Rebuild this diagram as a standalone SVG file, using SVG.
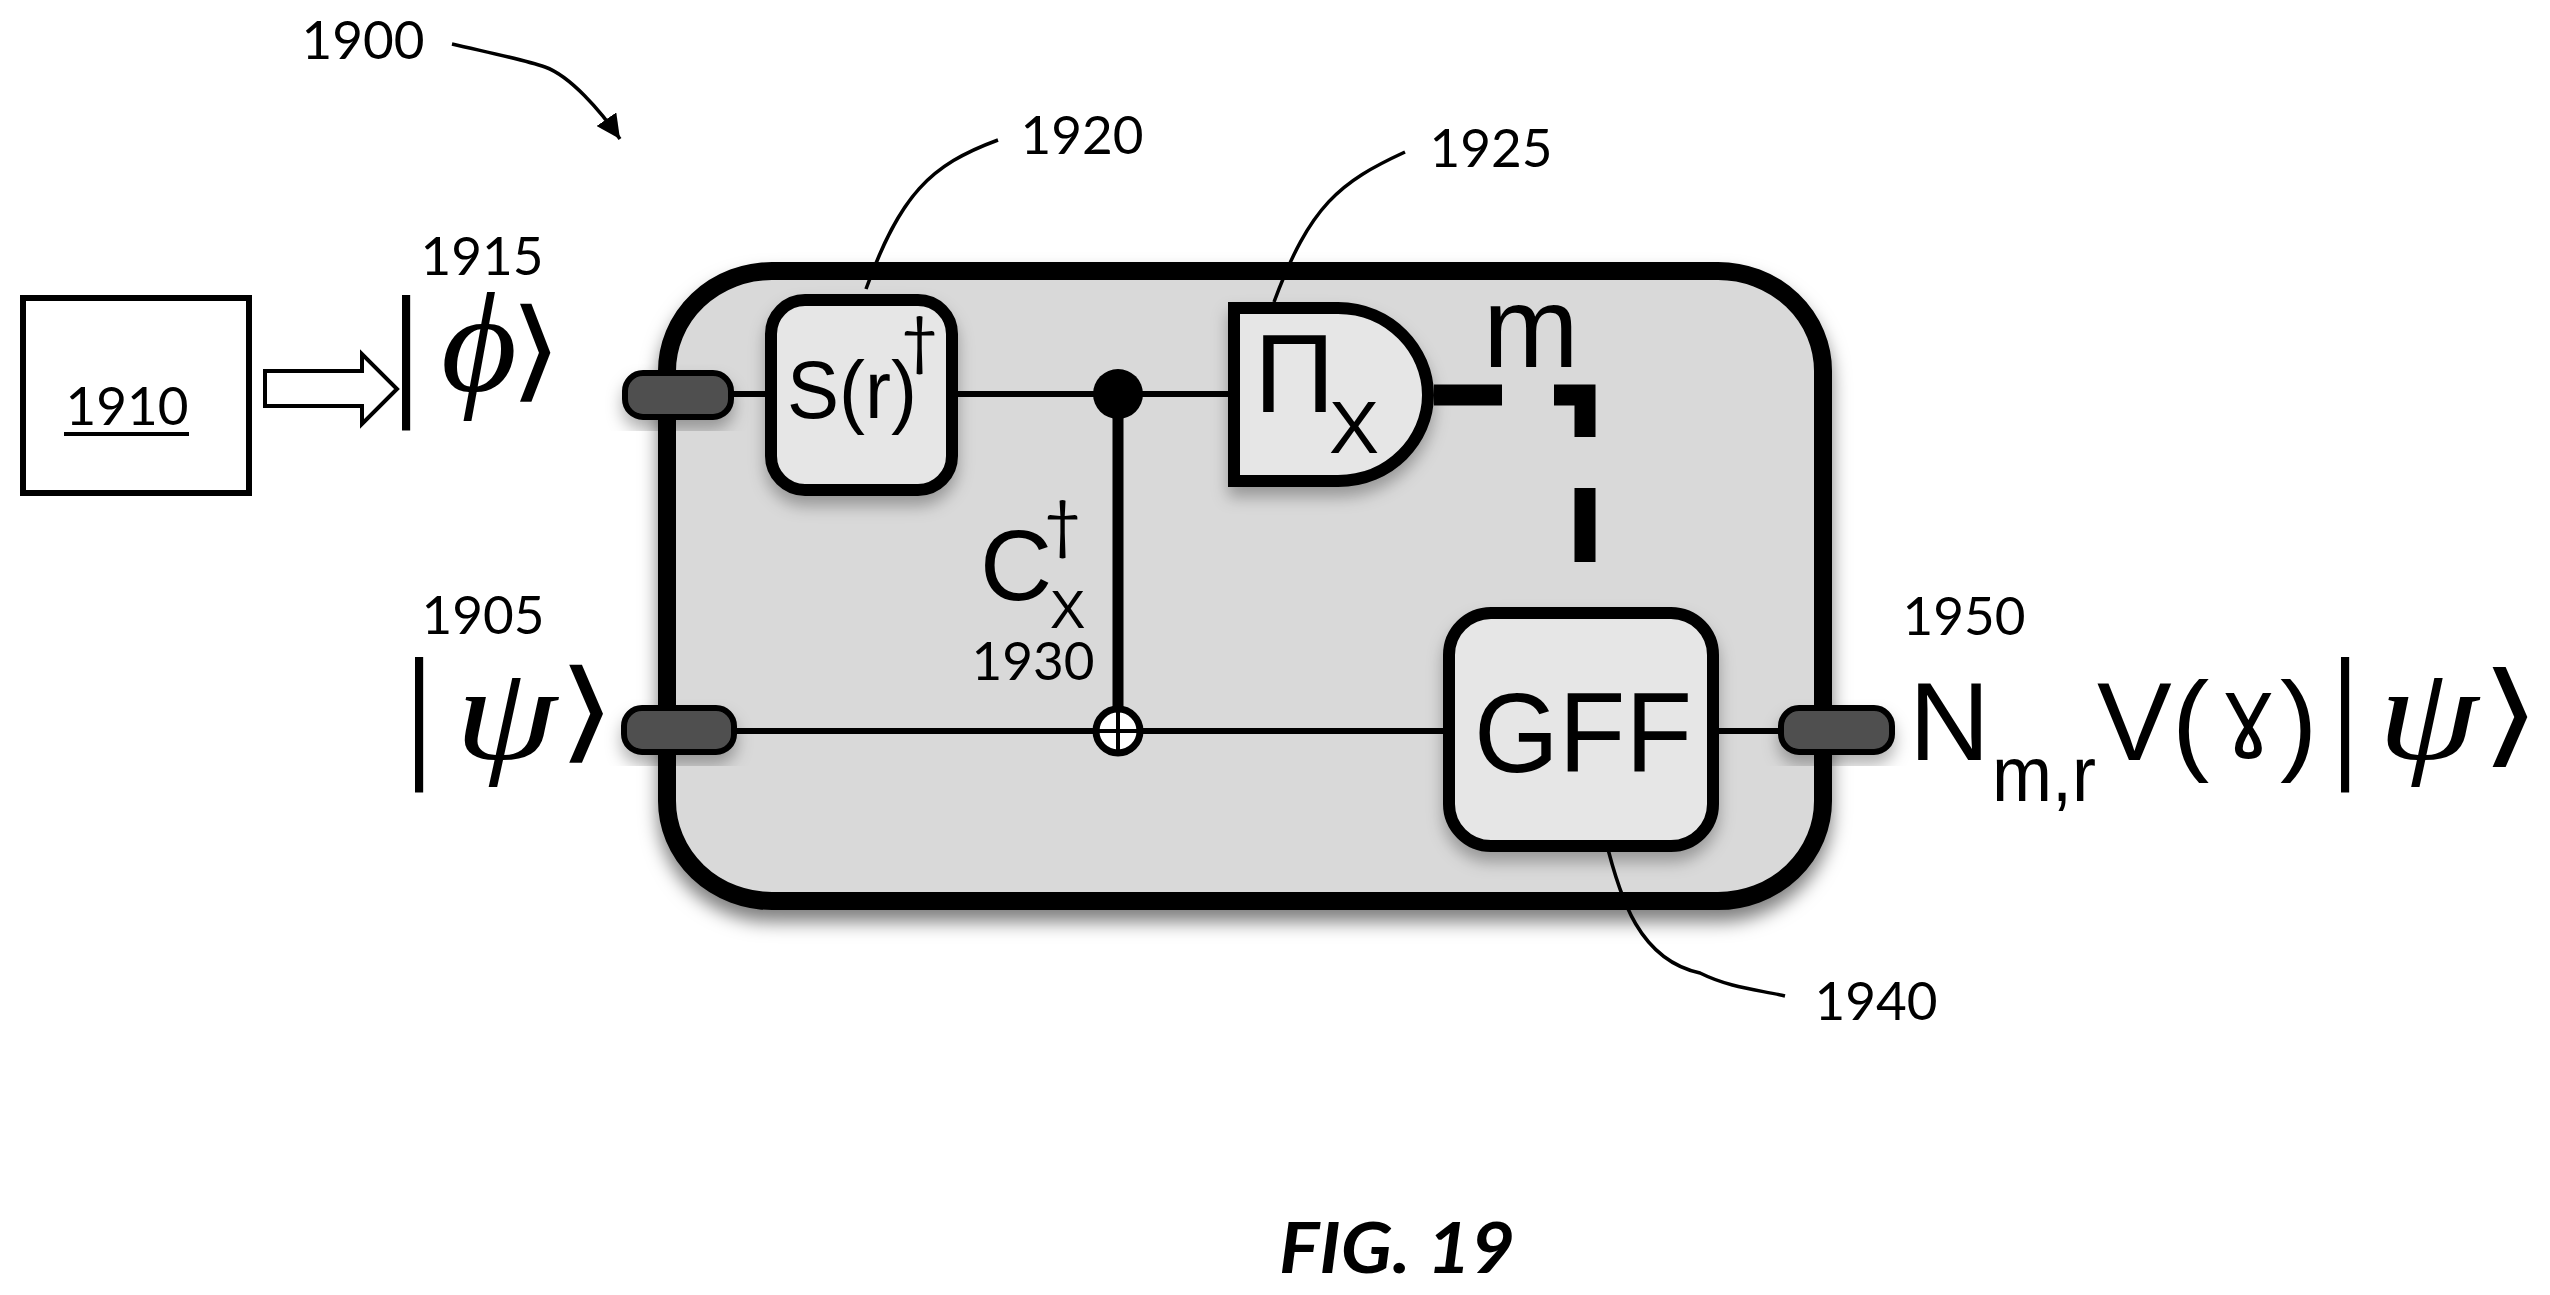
<svg xmlns="http://www.w3.org/2000/svg" width="2550" height="1295" viewBox="0 0 2550 1295">
<style>
text{font-family:"Liberation Sans",Arial,sans-serif;fill:#000}
.lb{font-family:Lato,"Liberation Sans",sans-serif;font-size:53px;text-anchor:middle}
.dg{font-family:Lato,"Liberation Sans",sans-serif;font-size:64px}
.gate{fill:#e6e6e6;stroke:#000;stroke-width:12}
.port{fill:#505050;stroke:#000;stroke-width:6}
.w{fill:none;stroke:#000;stroke-width:6}
.ld{fill:none;stroke:#000;stroke-width:3.5}
.ket{font-family:"DejaVu Sans",sans-serif;font-size:110px}
.gk{font-family:"Liberation Serif","DejaVu Serif",serif;font-style:italic;font-size:130px}
.bar{font-size:144px}
</style>
<defs>
<filter id="sh" x="-10%" y="-10%" width="120%" height="125%"><feDropShadow dx="0" dy="12" stdDeviation="9" flood-color="#000" flood-opacity="0.5"/></filter>
<filter id="sh2" x="-20%" y="-20%" width="140%" height="150%"><feDropShadow dx="0" dy="10" stdDeviation="8" flood-color="#000" flood-opacity="0.3"/></filter>
<marker id="ah" viewBox="0 0 10 10" refX="10" refY="5" markerWidth="24" markerHeight="24" markerUnits="userSpaceOnUse" orient="auto"><path d="M0 0L10 5L0 10Z" fill="#000"/></marker>
</defs>
<g id="n1900"><text class="lb" x="363" y="59">1900</text></g>
<g id="n1910"><rect x="23" y="298" width="226" height="195" fill="#fff" stroke="#000" stroke-width="6"/><text class="lb" x="127" y="425">1910</text><rect x="64" y="432" width="125" height="4"/></g>
<g id="n1915"><text class="lb" x="482" y="275">1915</text>
<text class="bar" transform="translate(393 400) scale(0.7 1)">|</text>
<text class="gk" transform="translate(441 391) scale(1.13 1.09)">ϕ</text>
<text class="ket" transform="translate(509 387) scale(1.25 1)">⟩</text></g>
<g id="n1905"><text class="lb" x="483" y="634">1905</text>
<text class="bar" transform="translate(406 762) scale(0.7 1)">|</text>
<text class="gk" transform="translate(455 759) scale(1.26 1.03)">ψ</text>
<text class="ket" transform="translate(557 748) scale(1.39 1)">⟩</text></g>
<g id="main"><rect x="667" y="271" width="1156" height="630" rx="105" ry="100" fill="#d9d9d9" stroke="#000" stroke-width="18" filter="url(#sh)"/></g>
<g id="connectors">
<path class="w" d="M730 394H765M958 394H1228M735 731H1443M1719 731H1780"/>
<path d="M1118 394V731" fill="none" stroke="#000" stroke-width="11"/>
<path d="M1434 395H1502M1554 395H1585V437M1585 488V562" fill="none" stroke="#000" stroke-width="21"/>
<path class="ld" d="M452 44C500 55 525 60 545 67C570 76 600 110 620 139" marker-end="url(#ah)"/>
<path class="ld" d="M998 140C930 165 900 195 866 289"/>
<path class="ld" d="M1405 152C1340 182 1310 205 1274 302"/>
<path class="ld" d="M1605 837C1620 900 1640 960 1700 973C1730 988 1760 990 1785 996"/>
</g>
<g id="p1"><rect x="625" y="373" width="106" height="44" rx="18" class="port" filter="url(#sh2)"/></g>
<g id="p2"><rect x="624" y="708" width="110" height="44" rx="18" class="port" filter="url(#sh2)"/></g>
<g id="p3"><rect x="1781" y="708" width="111" height="44" rx="18" class="port" filter="url(#sh2)"/></g>
<g id="n1920"><rect x="771" y="300" width="181" height="190" rx="34" class="gate" filter="url(#sh2)"/>
<text x="787" y="418" style="font-size:82px" textLength="130" lengthAdjust="spacingAndGlyphs">S(r)</text><text class="dg" x="901" y="363">†</text>
<text class="lb" x="1082" y="154">1920</text></g>
<g id="n1925"><path class="gate" d="M1234 308H1338C1390 308 1428 350 1428 395C1428 440 1390 481 1338 481H1234Z" filter="url(#sh2)"/>
<text x="1254" y="412" style="font-size:112px">Π</text><text x="1329" y="453" style="font-size:75px">X</text>
<text x="1483" y="367" style="font-size:115px">m</text>
<text class="lb" x="1491" y="167">1925</text></g>
<g id="n1930"><circle cx="1118" cy="394" r="25"/><circle cx="1118" cy="731" r="22" fill="#fff" stroke="#000" stroke-width="7"/><path d="M1118 709V753M1096 731H1140" stroke="#000" stroke-width="4"/>
<text x="980" y="600" style="font-size:100px">C</text><text class="dg" x="1044" y="547">†</text><text x="1050" y="628" style="font-size:53px">X</text>
<text class="lb" x="1033" y="680">1930</text></g>
<g id="n1940"><rect x="1449" y="613" width="264" height="233" rx="42" class="gate" filter="url(#sh2)"/>
<text x="1474" y="772" style="font-size:113px" textLength="218" lengthAdjust="spacingAndGlyphs">GFF</text>
<text class="lb" x="1876" y="1020">1940</text></g>
<g id="n1950"><text class="lb" x="1964" y="635">1950</text>
<text x="1909" y="760" style="font-size:112px">N</text>
<text x="1992" y="801" style="font-size:78px" textLength="104" lengthAdjust="spacingAndGlyphs">m,r</text>
<text x="2097" y="760" style="font-size:112px">V</text>
<text x="2172" y="760" style="font-size:112px">(</text>
<text transform="translate(2221 741) scale(0.92 0.88)" style="font-size:100px;font-family:'DejaVu Sans',sans-serif">ɣ</text>
<text x="2280" y="760" style="font-size:112px">)</text>
<text class="bar" transform="translate(2332 762) scale(0.7 1)">|</text>
<text class="gk" transform="translate(2378 759) scale(1.24 1.03)">ψ</text>
<text class="ket" transform="translate(2480 752) scale(1.43 1.02)">⟩</text></g>
<g id="arrow1910"><path d="M265 371H362V354L397 389L362 424V406H265Z" fill="#fff" stroke="#000" stroke-width="4"/></g>
<g id="fig"><text x="1279" y="1273" style="font-family:Lato,'Liberation Sans',sans-serif;font-size:71px;font-weight:bold;font-style:italic" textLength="236" lengthAdjust="spacingAndGlyphs">FIG. 19</text></g>
</svg>
